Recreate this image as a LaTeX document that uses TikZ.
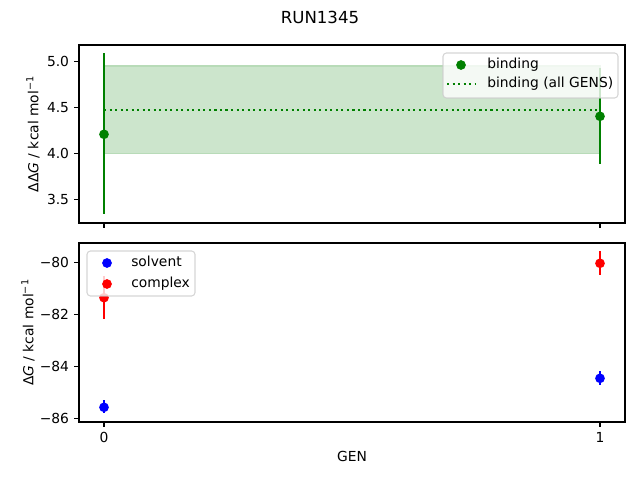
\documentclass[tikz,border=0pt]{standalone}
\usepackage{fontspec}
\setmainfont{DejaVu Sans}
\definecolor{mplgreen}{RGB}{0,128,0}
\definecolor{mplblue}{RGB}{0,0,255}
\definecolor{mplred}{RGB}{255,0,0}
\begin{document}
\begin{tikzpicture}[x=0.254mm, y=-0.254mm,
  every node/.style={font=\fontsize{10}{12}\selectfont, inner sep=0pt},
  frame/.style={draw=black, line width=0.8bp},
  tick/.style={draw=black, line width=0.8bp},
  errbar/.style={line width=1.5bp},
  dot/.style={circle, fill, inner sep=0pt, minimum size=7bp},
  legendbox/.style={draw=black!20, fill=white, opacity=0.8, rounded corners=2.5pt, line width=0.8bp},
  allgens/.style={draw=mplgreen, line width=1.5bp, dash pattern=on 1.5bp off 2.475bp}]
\useasboundingbox (0,0) rectangle (640,480);
\node[font=\fontsize{12}{14}\selectfont] (title) at (320,17) {RUN1345};
% top panel
\fill[mplgreen!20, draw=mplgreen!28, line width=1bp] (104,66) rectangle (600,153.7);
\coordinate (avgl) at (104,110);
\coordinate (avgr) at (600,110);
\path[allgens] (avgl) -- (avgr);
\draw[mplgreen, errbar] (104,53.3) -- (104,214);
\draw[mplgreen, errbar] (600,68.3) -- (600,164.3);
\node[dot, mplgreen] (bind0) at (104,134.3) {};
\node[dot, mplgreen] (bind1) at (600,116.3) {};
\path[frame] (79,45) rectangle (625,223);
\foreach \y/\t in {61.3/5.0, 107.3/4.5, 153.3/4.0, 199.3/3.5}
  {\path[tick] (79,\y) -- (74.1,\y);
   \node[anchor=east] at (69.3,\y) {\t};}
\foreach \x in {104,600}
  \path[tick] (\x,223) -- (\x,227.9);
\node[rotate=90, anchor=south] (ylabtop) at (40,134) {ΔΔ\textit{G} / kcal mol\textsuperscript{−1}};
\path[legendbox] (443,53) rectangle (618,98);
\node[dot, mplgreen] (legbind) at (461,65) {};
\node[anchor=base west] (legbindtxt) at (487,68.8) {binding};
\coordinate (legavgl) at (447,84);
\coordinate (legavgr) at (475,84);
\path[allgens] (legavgl) -- (legavgr);
\node[anchor=base west] (legavgtxt) at (487,87.8) {binding (all GENS)};
% bottom panel
\draw[mplblue, errbar] (104,400) -- (104,413.3);
\draw[mplblue, errbar] (600,371) -- (600,385);
\draw[mplred, errbar] (104,276.3) -- (104,319);
\draw[mplred, errbar] (600,251) -- (600,275);
\node[dot, mplblue] (solv0) at (104,407.3) {};
\node[dot, mplblue] (solv1) at (600,378.3) {};
\node[dot, mplred] (cplx0) at (104,297.7) {};
\node[dot, mplred] (cplx1) at (600,263.3) {};
\path[frame] (79,243) rectangle (625,422);
\foreach \y/\t in {262.3/−80, 314.3/−82, 366.3/−84, 418.3/−86}
  {\path[tick] (79,\y) -- (74.1,\y);
   \node[anchor=east] at (69.3,\y) {\t};}
\foreach \x/\t in {104/0, 600/1}
  {\path[tick] (\x,422) -- (\x,426.9);
   \node[anchor=north] at (\x,431.8) {\t};}
\node[rotate=90, anchor=south] (ylabbot) at (35,332.5) {Δ\textit{G} / kcal mol\textsuperscript{−1}};
\node[anchor=north] (xlab) at (352,450.5) {GEN};
\path[legendbox] (87,251) rectangle (195,296);
\node[dot, mplblue] (legsolv) at (107,263) {};
\node[anchor=base west] (legsolvtxt) at (131,266.8) {solvent};
\node[dot, mplred] (legcplx) at (107,284) {};
\node[anchor=base west] (legcplxtxt) at (131,287.8) {complex};
\end{tikzpicture}
\end{document}
